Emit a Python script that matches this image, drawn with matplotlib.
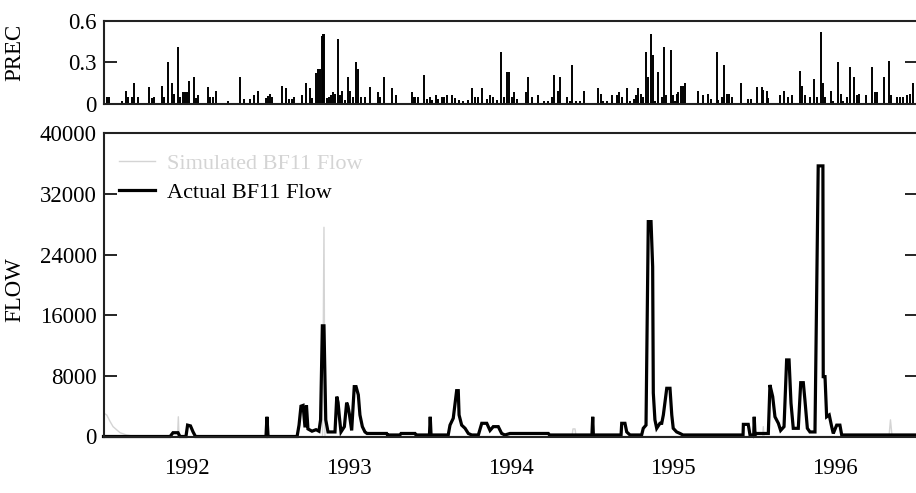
import matplotlib
matplotlib.use("Agg")
import matplotlib.pyplot as plt
import numpy as np

plt.rcParams['font.family'] = ['Liberation Serif', 'DejaVu Serif']

# daily precipitation spikes (decimal year, value)
prec_t = [1991.489, 1991.505, 1991.517, 1991.595, 1991.620, 1991.636, 1991.657, 1991.670,
          1991.694, 1991.766, 1991.781, 1991.795, 1991.842, 1991.857, 1991.881, 1991.904,
          1991.918, 1991.943, 1991.955, 1991.974, 1991.986, 1991.999, 1992.013, 1992.040,
          1992.052, 1992.068, 1992.126, 1992.141, 1992.161, 1992.178, 1992.252, 1992.326,
          1992.352, 1992.386, 1992.410, 1992.437, 1992.486, 1992.499, 1992.511, 1992.523,
          1992.585, 1992.610, 1992.626, 1992.645, 1992.661, 1992.708, 1992.735, 1992.758,
          1992.768, 1992.795, 1992.809, 1992.820, 1992.830, 1992.838, 1992.846, 1992.863,
          1992.875, 1992.887, 1992.900, 1992.912, 1992.929, 1992.943, 1992.957, 1992.974,
          1992.991, 1993.005, 1993.025, 1993.040, 1993.056, 1993.073, 1993.097, 1993.128,
          1993.176, 1993.190, 1993.216, 1993.266, 1993.287, 1993.386, 1993.397, 1993.409,
          1993.424, 1993.463, 1993.478, 1993.499, 1993.513, 1993.534, 1993.550, 1993.571,
          1993.587, 1993.602, 1993.633, 1993.653, 1993.678, 1993.704, 1993.735, 1993.760,
          1993.776, 1993.797, 1993.821, 1993.849, 1993.869, 1993.889, 1993.910, 1993.935,
          1993.957, 1993.972, 1993.986, 1994.003, 1994.019, 1994.034, 1994.091, 1994.105,
          1994.130, 1994.167, 1994.204, 1994.229, 1994.253, 1994.266, 1994.290, 1994.301,
          1994.342, 1994.363, 1994.377, 1994.400, 1994.424, 1994.451, 1994.537, 1994.552,
          1994.568, 1994.593, 1994.622, 1994.651, 1994.667, 1994.682, 1994.713, 1994.733,
          1994.758, 1994.770, 1994.784, 1994.799, 1994.811, 1994.832, 1994.846, 1994.861,
          1994.873, 1994.887, 1994.908, 1994.929, 1994.945, 1994.955, 1994.986, 1994.997,
          1995.011, 1995.021, 1995.031, 1995.046, 1995.058, 1995.073, 1995.155, 1995.182,
          1995.216, 1995.231, 1995.268, 1995.278, 1995.303, 1995.315, 1995.330, 1995.344,
          1995.361, 1995.416, 1995.463, 1995.478, 1995.515, 1995.546, 1995.556, 1995.577,
          1995.587, 1995.659, 1995.684, 1995.710, 1995.735, 1995.782, 1995.797, 1995.813,
          1995.844, 1995.871, 1995.886, 1995.910, 1995.923, 1995.937, 1995.972, 1995.988,
          1996.019, 1996.034, 1996.050, 1996.071, 1996.091, 1996.118, 1996.133, 1996.147,
          1996.190, 1996.229, 1996.245, 1996.256, 1996.301, 1996.332, 1996.342, 1996.379,
          1996.400, 1996.420, 1996.441, 1996.461, 1996.482]
prec_v = [0.048, 0.048, 0.045, 0.017, 0.09, 0.05, 0.05, 0.15,
          0.05, 0.12, 0.04, 0.05, 0.13, 0.05, 0.30, 0.15,
          0.07, 0.41, 0.05, 0.08, 0.08, 0.085, 0.16, 0.19,
          0.04, 0.065, 0.12, 0.05, 0.05, 0.09, 0.017, 0.19,
          0.036, 0.03, 0.06, 0.09, 0.04, 0.055, 0.07, 0.045,
          0.13, 0.11, 0.036, 0.036, 0.05, 0.06, 0.15, 0.11,
          0.04, 0.22, 0.25, 0.25, 0.49, 0.50, 0.50, 0.04,
          0.05, 0.06, 0.08, 0.07, 0.47, 0.06, 0.09, 0.025,
          0.19, 0.09, 0.05, 0.30, 0.25, 0.05, 0.05, 0.12,
          0.08, 0.05, 0.19, 0.11, 0.065, 0.08, 0.05, 0.05,
          0.05, 0.21, 0.036, 0.05, 0.025, 0.065, 0.036, 0.05,
          0.05, 0.065, 0.065, 0.04, 0.025, 0.017, 0.025, 0.11,
          0.05, 0.05, 0.11, 0.036, 0.065, 0.05, 0.025, 0.37,
          0.05, 0.225, 0.225, 0.05, 0.08, 0.036, 0.08, 0.19,
          0.05, 0.065, 0.017, 0.017, 0.05, 0.21, 0.09, 0.19,
          0.05, 0.017, 0.28, 0.017, 0.017, 0.09, 0.11, 0.07,
          0.017, 0.017, 0.065, 0.065, 0.08, 0.05, 0.11, 0.017,
          0.036, 0.06, 0.11, 0.07, 0.05, 0.37, 0.19, 0.50,
          0.35, 0.017, 0.225, 0.05, 0.41, 0.06, 0.385, 0.06,
          0.017, 0.07, 0.08, 0.13, 0.13, 0.15, 0.09, 0.065,
          0.07, 0.036, 0.37, 0.025, 0.05, 0.28, 0.07, 0.07,
          0.05, 0.15, 0.03, 0.036, 0.12, 0.12, 0.10, 0.09,
          0.04, 0.06, 0.09, 0.05, 0.06, 0.235, 0.13, 0.06,
          0.05, 0.18, 0.05, 0.515, 0.145, 0.05, 0.09, 0.017,
          0.30, 0.07, 0.017, 0.05, 0.265, 0.19, 0.06, 0.07,
          0.065, 0.265, 0.08, 0.08, 0.19, 0.31, 0.06, 0.05,
          0.05, 0.05, 0.06, 0.07, 0.145]

# observed flow at BF11
act_t = [1991.483, 1991.894, 1991.912, 1991.943, 1991.955, 1991.992, 1992.002, 1992.020,
         1992.036, 1992.051, 1992.486, 1992.492, 1992.499, 1992.678, 1992.690, 1992.702,
         1992.715, 1992.727, 1992.736, 1992.745, 1992.770, 1992.795, 1992.813, 1992.823,
         1992.834, 1992.844, 1992.855, 1992.869, 1992.912, 1992.923, 1992.931, 1992.939,
         1992.949, 1992.970, 1992.984, 1992.992, 1993.000, 1993.015, 1993.031, 1993.042,
         1993.056, 1993.066, 1993.081, 1993.097, 1993.110, 1993.231, 1993.236, 1993.313,
         1993.320, 1993.406, 1993.412, 1993.495, 1993.500, 1993.505, 1993.611, 1993.622,
         1993.642, 1993.663, 1993.673, 1993.678, 1993.694, 1993.715, 1993.735, 1993.756,
         1993.797, 1993.818, 1993.849, 1993.869, 1993.889, 1993.920, 1993.941, 1993.961,
         1993.992, 1994.229, 1994.236, 1994.498, 1994.503, 1994.507, 1994.678, 1994.682,
         1994.702, 1994.713, 1994.733, 1994.805, 1994.815, 1994.832, 1994.846, 1994.863,
         1994.873, 1994.877, 1994.887, 1994.898, 1994.918, 1994.929, 1994.939, 1994.960,
         1994.980, 1994.991, 1995.000, 1995.021, 1995.042, 1995.060, 1995.431, 1995.433,
         1995.463, 1995.474, 1995.497, 1995.500, 1995.505, 1995.515, 1995.587, 1995.597,
         1995.614, 1995.628, 1995.649, 1995.663, 1995.684, 1995.700, 1995.715, 1995.727,
         1995.741, 1995.772, 1995.787, 1995.803, 1995.813, 1995.828, 1995.844, 1995.875,
         1995.895, 1995.924, 1995.926, 1995.937, 1995.947, 1995.963, 1995.978, 1995.988,
         1996.009, 1996.029, 1996.040, 1996.511]
act_q = [0, 0, 500, 500, 0, 0, 1500, 1400,
         600, 0, 0, 2600, 0, 0, 1500, 4000,
         4100, 1200, 4100, 1000, 700, 900, 700, 2200,
         14600, 14600, 2200, 600, 600, 5260, 4500, 2600,
         600, 1300, 4470, 4000, 3060, 800, 6580, 6580,
         5500, 2840, 1300, 600, 400, 400, 200, 200,
         400, 400, 200, 200, 2600, 200, 200, 1500,
         2400, 6050, 6050, 2840, 1500, 1080, 400, 200,
         200, 1740, 1740, 800, 1300, 1300, 400, 200,
         400, 400, 200, 200, 2600, 200, 200, 1740,
         1740, 600, 200, 200, 1080, 1500, 28350, 28350,
         22400, 5740, 2200, 1080, 1740, 1740, 2840, 6360,
         6360, 2840, 1080, 600, 400, 200, 200, 1600,
         1600, 200, 200, 2600, 200, 400, 400, 6800,
         5260, 2600, 1740, 800, 1300, 10100, 10100, 4400,
         1080, 1080, 7100, 7100, 4800, 1080, 600, 600,
         35700, 35700, 7900, 7900, 2600, 2840, 1300, 400,
         1500, 1500, 200, 200]

# simulated flow at BF11
sim_t = [1991.483, 1991.503, 1991.523, 1991.542, 1991.585, 1991.626, 1991.678, 1991.940,
         1991.945, 1991.949, 1992.835, 1992.844, 1992.850, 1994.375, 1994.381, 1994.394,
         1994.400, 1995.552, 1995.556, 1995.561, 1996.332, 1996.341, 1996.351, 1996.511]
sim_q = [3100, 2840, 2000, 1300, 500, 200, 0, 0,
         2600, 0, 0, 27600, 0, 0, 1000, 1000,
         0, 0, 1300, 0, 0, 2200, 0, 0]

years = [1992, 1993, 1994, 1995, 1996]
prec_ticks = [0, 0.3, 0.6]
prec_labels = ['0', '0.3', '0.6']
flow_ticks = [0, 8000, 16000, 24000, 32000, 40000]

W, H = 916, 493
fig = plt.figure(figsize=(W / 100, H / 100), dpi=100)
left, right = 103.5 / W, 918 / W
ax1 = fig.add_axes([left, 1 - 103.5 / H, right - left, 82.8 / H])
ax2 = fig.add_axes([left, 1 - 436.5 / H, right - left, 303.2 / H])

xlim = (1991.483, 1996.511)

ax1.vlines(prec_t, 0, prec_v, colors='black', lw=1.4)
ax1.set_xlim(*xlim)
ax1.set_ylim(0, 0.6)
ax1.set_yticks(prec_ticks)
ax1.set_yticklabels(prec_labels)
ax1.set_xticks([])
ax1.set_ylabel('PREC', fontsize=16.5)
ax1.yaxis.set_label_coords(-0.0964, 0.616)

sim_col = '#d4d4d4'
ax2.plot(sim_t, sim_q, color=sim_col, lw=1.0, label='Simulated BF11 Flow')
ax2.plot(act_t, act_q, color='black', lw=2.3, label='Actual BF11 Flow', clip_on=False,
         solid_joinstyle='miter')
ax2.set_xlim(*xlim)
ax2.set_ylim(0, 40000)
ax2.set_yticks(flow_ticks)
ax2.set_xticks(years)
ax2.set_xticklabels([str(y) for y in years])
ax2.set_ylabel('FLOW', fontsize=16.5)
ax2.yaxis.set_label_coords(-0.0964, 0.486)

for ax in (ax1, ax2):
    ax.tick_params(axis='y', direction='in', length=9.5, width=1.2, left=True, right=True,
                   labelsize=16.5, pad=5)
    ax.tick_params(axis='x', length=0, labelsize=16.5, pad=15.5)
    for s in ax.spines.values():
        s.set_linewidth(1.5)
        s.set_color('#222222')

leg = ax2.legend(loc='upper left', bbox_to_anchor=(0.019, 0.933), frameon=False,
                 fontsize=16, handlelength=1.6, handletextpad=0.55, labelspacing=0.38,
                 borderpad=0, borderaxespad=0, labelcolor='linecolor')

fig.savefig('out.png', dpi=100)
